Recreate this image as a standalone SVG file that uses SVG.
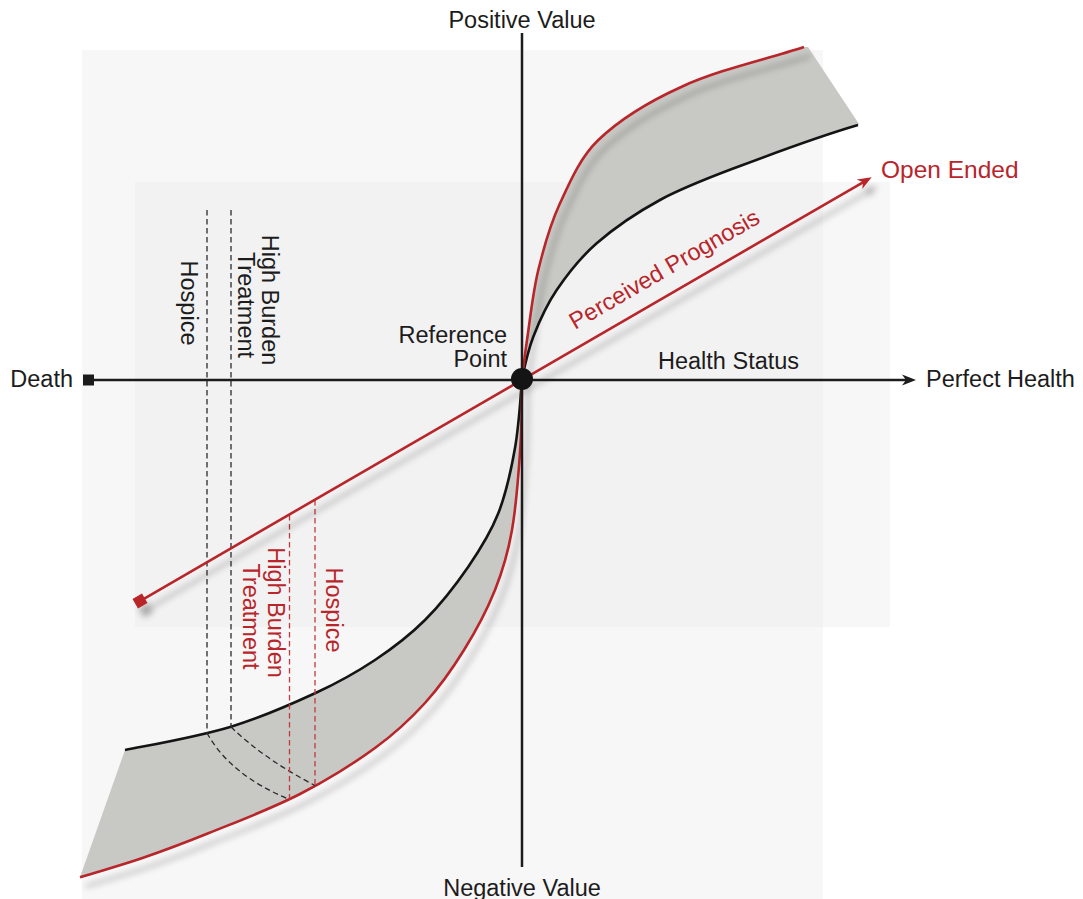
<svg xmlns="http://www.w3.org/2000/svg" width="1083" height="899" viewBox="0 0 1083 899">
<style>
  text { font-family: "Liberation Sans", Arial, Helvetica, sans-serif; font-size: 23.5px; fill: #1c1c1c; }
  .red { fill: #b8252b; }
  .axis { stroke: #1c1c1c; stroke-width: 2.5; fill: none; }
  .curve-red { stroke: #b8252b; stroke-width: 2.6; fill: none; }
  .curve-black { stroke: #141414; stroke-width: 2.6; fill: none; }
  .band { fill: #c8c8c4; stroke: none; }
  .dash-black { stroke: #2a2a2a; stroke-width: 1.3; stroke-dasharray: 5.5 3.5; fill: none; }
  .dash-red { stroke: #c0393e; stroke-width: 1.3; stroke-dasharray: 5.5 3.5; fill: none; }
</style>
<defs>
  <filter id="shadow" filterUnits="userSpaceOnUse" x="0" y="0" width="1083" height="899">
    <feDropShadow dx="6" dy="9" stdDeviation="3" flood-color="#000" flood-opacity="0.3"/>
  </filter>
  <marker id="headBlack" viewBox="-5 -6 16 12" markerWidth="16" markerHeight="12" refX="0" refY="0" orient="auto" markerUnits="userSpaceOnUse">
    <path d="M10,0 L-4,-5.5 L0,0 L-4,5.5 Z" fill="#1c1c1c"/>
  </marker>
  <marker id="headRed" viewBox="-5 -6 16 12" markerWidth="16" markerHeight="12" refX="0" refY="0" orient="auto" markerUnits="userSpaceOnUse">
    <path d="M10,0 L-4,-5.5 L0,0 L-4,5.5 Z" fill="#b8252b"/>
  </marker>
</defs>

<g id="background">
  <rect x="82" y="50" width="741" height="849" fill="#f7f7f7"/>
  <rect x="135" y="182" width="755" height="445" fill="#f7f7f7"/>
  <rect x="135" y="182" width="688" height="445" fill="#f2f2f2"/>
</g>

<g id="value-bands">
  <path class="band" d="M522,379 C523.6,366 525.1,353 527,340 C530.5,316.6 532.75,293 538.3,270 C543.8,247.3 550.2,224.5 560,203.3 C570.3,180.9 580.5,157.1 598.3,140 C622.1,117.2 651.6,100.3 681.7,86.7 C720.75,69 763.3,60.3 804,47 L808,47 L859,124 L858,125 C818.1,136.65 778.9,151.3 740,166 C712.9,176.3 685.5,186.2 660,200 C637.5,212.2 616,226.5 596.7,243.3 C581.2,256.8 568.2,273.05 556.7,290 C546.9,304.4 539.6,320.5 533.3,336.7 C528,350.3 524.9,364.7 522,379 Z"/>
  <path class="band" d="M522,379 C521.56,401 521.95,423 520.5,445 C518.6,473.4 516.9,501.9 512,530 C508.4,550.5 502.7,570.7 495,590 C486.65,610.9 475.9,630.9 464,650 C452.5,668.6 439.7,686.8 425,703 C409.95,719.6 393.1,734.8 375,748 C351.3,765.25 326.1,780.65 300,794 C270.4,809.2 239.15,820.8 208.3,833.3 C186.3,842.2 164.1,850.6 141.7,858.3 C121.4,865.3 100.5,870.9 80,877.3 L125,750 C160.5,743.1 196.3,737.05 231,726.7 C259.8,718.1 287.7,705.9 315,693.3 C335.8,683.7 355.95,672.7 375,660 C392.7,648.2 409.9,635.1 425,620 C441.2,603.8 455.3,585.6 468.3,566.7 C479.85,549.9 490.8,532.3 498.3,513.3 C506.5,492.4 511.1,470.2 515,448 C519,425.25 520.15,402 522,379 Z"/>
</g>

<g id="value-curves">
  <path id="curve-black-upper" class="curve-black" d="M522,379 C524.9,364.7 528,350.3 533.3,336.7 C539.6,320.5 546.9,304.4 556.7,290 C568.2,273.05 581.2,256.8 596.7,243.3 C616,226.5 637.5,212.2 660,200 C685.5,186.2 712.9,176.3 740,166 C778.9,151.3 818.1,136.65 858,125"/>
  <path id="curve-black-lower" class="curve-black" d="M522,379 C520.15,402 519,425.25 515,448 C511.1,470.2 506.5,492.4 498.3,513.3 C490.8,532.3 479.85,549.9 468.3,566.7 C455.3,585.6 441.2,603.8 425,620 C409.9,635.1 392.7,648.2 375,660 C355.95,672.7 335.8,683.7 315,693.3 C287.7,705.9 259.8,718.1 231,726.7 C196.3,737.05 160.5,743.1 125,750"/>
  <path id="curve-red-upper" class="curve-red" filter="url(#shadow)" d="M522,379 C523.6,366 525.1,353 527,340 C530.5,316.6 532.75,293 538.3,270 C543.8,247.3 550.2,224.5 560,203.3 C570.3,180.9 580.5,157.1 598.3,140 C622.1,117.2 651.6,100.3 681.7,86.7 C720.75,69 763.3,60.3 804,47"/>
  <path id="curve-red-lower" class="curve-red" filter="url(#shadow)" d="M522,379 C521.56,401 521.95,423 520.5,445 C518.6,473.4 516.9,501.9 512,530 C508.4,550.5 502.7,570.7 495,590 C486.65,610.9 475.9,630.9 464,650 C452.5,668.6 439.7,686.8 425,703 C409.95,719.6 393.1,734.8 375,748 C351.3,765.25 326.1,780.65 300,794 C270.4,809.2 239.15,820.8 208.3,833.3 C186.3,842.2 164.1,850.6 141.7,858.3 C121.4,865.3 100.5,870.9 80,877.3"/>
</g>

<g id="connectors">
  <line id="dash-hospice-black" class="dash-black" x1="207" y1="210" x2="207" y2="733"/>
  <line id="dash-hbt-black" class="dash-black" x1="231" y1="210" x2="231" y2="727"/>
  <path id="arc-hospice" class="dash-black" d="M207,733 Q230,775 289.5,799.5"/>
  <path id="arc-hbt" class="dash-black" d="M231,727 Q264,759 315,785.5"/>
  <line id="dash-hbt-red" class="dash-red" x1="289.5" y1="515" x2="289.5" y2="799.5"/>
  <line id="dash-hospice-red" class="dash-red" x1="315" y1="500" x2="315" y2="785.5"/>
</g>

<g id="axes">
  <line id="axis-vertical" class="axis" x1="522" y1="33" x2="522" y2="867"/>
  <line id="axis-horizontal" class="axis" x1="88" y1="380" x2="906" y2="380" marker-end="url(#headBlack)"/>
  <rect id="death-marker" x="83" y="374.5" width="11" height="11" fill="#1c1c1c"/>
</g>

<g id="perceived-prognosis" filter="url(#shadow)">
  <line x1="140" y1="601" x2="863" y2="182.3" stroke="#b8252b" stroke-width="2.6" marker-end="url(#headRed)"/>
  <rect x="134.5" y="595.5" width="11" height="11" fill="#b8252b" transform="rotate(-30.07 140 601)"/>
</g>

<g id="reference-point">
  <circle cx="522" cy="379" r="11" fill="#141414"/>
  <text x="507" y="343" text-anchor="end">Reference</text>
  <text x="507" y="367" text-anchor="end">Point</text>
</g>

<g id="labels">
  <text x="522" y="28" text-anchor="middle">Positive Value</text>
  <text x="522" y="896" text-anchor="middle">Negative Value</text>
  <text x="73" y="387" text-anchor="end">Death</text>
  <text x="926" y="387">Perfect Health</text>
  <text x="658" y="369">Health Status</text>
  <text class="red" x="881" y="178" style="font-size:24.5px">Open Ended</text>
  <text class="red" transform="translate(575,330) rotate(-30.07)">Perceived Prognosis</text>
</g>

<g id="option-labels">
  <text transform="translate(181,303) rotate(90)" text-anchor="middle">Hospice</text>
  <text transform="translate(262,300) rotate(90)" text-anchor="middle">High Burden</text>
  <text transform="translate(238,305) rotate(90)" text-anchor="middle">Treatment</text>
  <text class="red" transform="translate(326,610) rotate(90)" text-anchor="middle">Hospice</text>
  <text class="red" transform="translate(267.5,612.5) rotate(90)" text-anchor="middle">High Burden</text>
  <text class="red" transform="translate(243,616.5) rotate(90)" text-anchor="middle">Treatment</text>
</g>
</svg>
